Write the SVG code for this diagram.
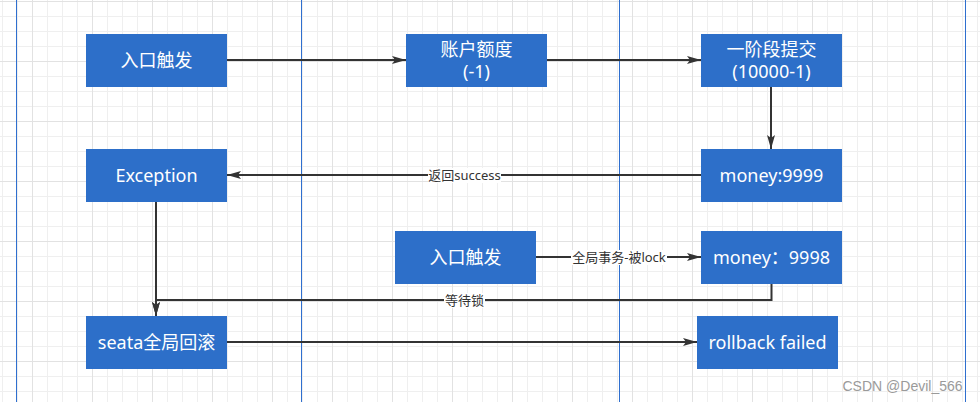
<svg xmlns="http://www.w3.org/2000/svg" width="980" height="402" viewBox="0 0 980 402">
<style>
.node rect{fill:#2d6fc9;}
.node text{fill:#ffffff;font-family:"Noto Sans","Noto Sans CJK SC",sans-serif;font-size:18px;text-anchor:middle;}
.edge{fill:none;stroke:#333333;stroke-width:2;}
.lbl{fill:#333333;font-family:"Noto Sans","Noto Sans CJK SC",sans-serif;font-size:13px;text-anchor:middle;}
.lblbg{fill:#ffffff;}
.lane{stroke:#2f6fcf;stroke-width:1;}
</style>
<defs>
<pattern id="minor" x="2" y="1" width="15" height="15" patternUnits="userSpaceOnUse">
<path d="M0.5 0V15M0 0.5H15" stroke="#efefef" stroke-width="1" fill="none"/>
</pattern>
<pattern id="major" x="32" y="1" width="60" height="60" patternUnits="userSpaceOnUse">
<path d="M0.5 0V60M0 0.5H60" stroke="#e2e2e2" stroke-width="1" fill="none"/>
</pattern>
<marker id="arr" markerUnits="userSpaceOnUse" markerWidth="14" markerHeight="10" refX="14" refY="5" orient="auto" viewBox="0 0 14 10">
<path d="M0 1L14 5L0 9L3 5Z" fill="#333333"/>
</marker>
</defs>
<rect width="980" height="402" fill="#ffffff"/>
<rect width="980" height="402" fill="url(#minor)"/>
<rect width="980" height="402" fill="url(#major)"/>
<g id="lanes">
<line class="lane" x1="16.5" y1="0" x2="16.5" y2="402"/>
<line class="lane" x1="301.5" y1="0" x2="301.5" y2="402"/>
<line class="lane" x1="619.5" y1="0" x2="619.5" y2="402"/>
<line class="lane" x1="965.5" y1="0" x2="965.5" y2="402"/>
</g>
<g id="connectors">
<path class="edge" d="M227 60H406" marker-end="url(#arr)"/>
<path class="edge" d="M547 60H701" marker-end="url(#arr)"/>
<path class="edge" d="M771 87V149" marker-end="url(#arr)"/>
<path class="edge" d="M701 175H227" marker-end="url(#arr)"/>
<rect class="lblbg" x="428" y="168" width="73" height="15"/>
<text class="lbl" x="464.5" y="179.5">返回success</text>
<path class="edge" d="M536 257H701" marker-end="url(#arr)"/>
<rect class="lblbg" x="571" y="250" width="96" height="15"/>
<text class="lbl" x="619" y="261.5">全局事务-被lock</text>
<path class="edge" d="M156 202V316" marker-end="url(#arr)"/>
<path class="edge" d="M771.5 284V300H156V316" marker-end="url(#arr)"/>
<rect class="lblbg" x="444" y="293" width="41" height="15"/>
<text class="lbl" x="464.5" y="304.5">等待锁</text>
<path class="edge" d="M227 342H697" marker-end="url(#arr)"/>
</g>
<g id="n1" class="node"><rect x="86" y="34" width="141" height="53"/><text x="156.5" y="67">入口触发</text></g>
<g id="n2" class="node"><rect x="406" y="34" width="141" height="53"/><text x="476.5" y="56">账户额度</text><text x="476.5" y="78">(-1)</text></g>
<g id="n3" class="node"><rect x="701" y="34" width="141" height="53"/><text x="771.5" y="56">一阶段提交</text><text x="771.5" y="78">(10000-1)</text></g>
<g id="n4" class="node"><rect x="86" y="149" width="141" height="53"/><text x="156.5" y="182">Exception</text></g>
<g id="n5" class="node"><rect x="701" y="149" width="141" height="53"/><text x="771.5" y="182">money:9999</text></g>
<g id="n6" class="node"><rect x="395" y="231" width="141" height="53"/><text x="465.5" y="264">入口触发</text></g>
<g id="n7" class="node"><rect x="701" y="231" width="141" height="53"/><text x="771.5" y="264">money：9998</text></g>
<g id="n8" class="node"><rect x="86" y="316" width="141" height="53"/><text x="156.5" y="349">seata全局回滚</text></g>
<g id="n9" class="node"><rect x="697" y="316" width="141" height="53"/><text x="767.5" y="349">rollback failed</text></g>
<text x="842.5" y="390.5" font-family="Liberation Sans, Arial, sans-serif" font-size="14" fill="#9a9a9a">CSDN @Devil_566</text>
</svg>
